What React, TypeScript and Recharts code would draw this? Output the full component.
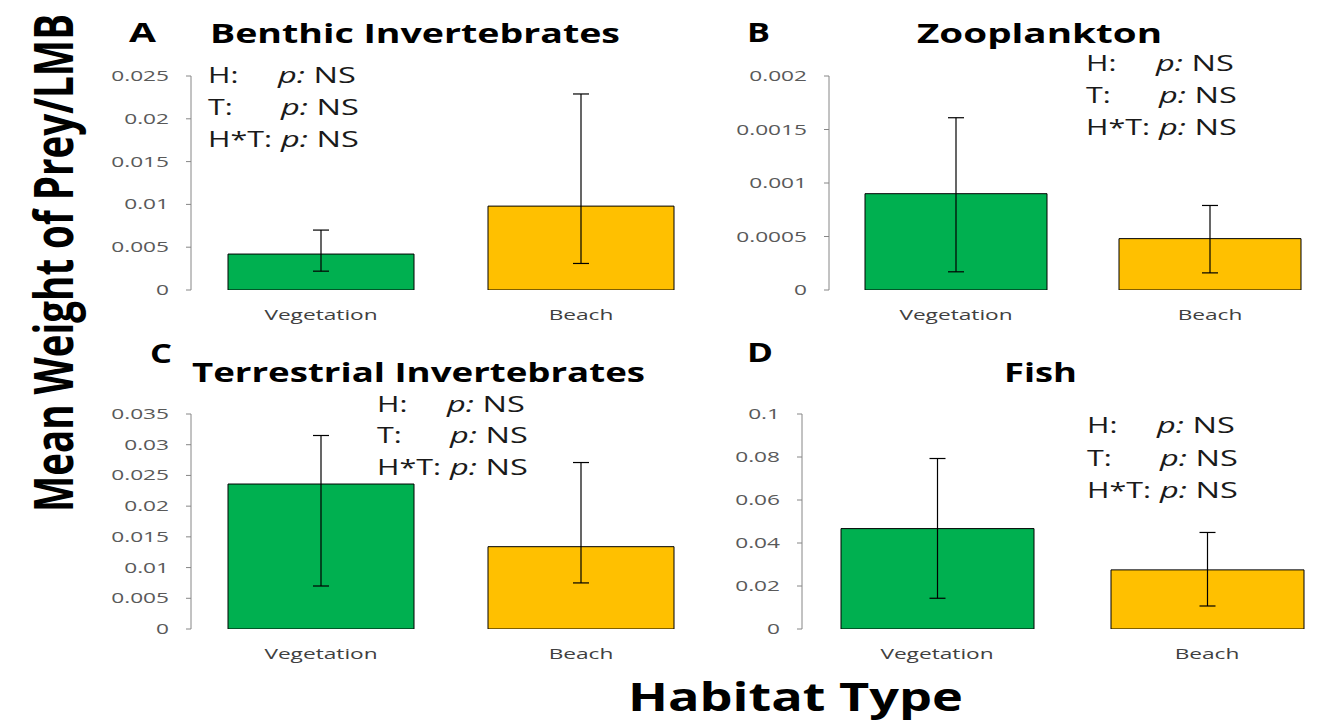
import React from 'react';
import { BarChart, Bar, XAxis, YAxis, ErrorBar, Cell } from 'recharts';

// ---------- data ----------
const categories = ['Vegetation', 'Beach'];
const barColors = ['#00B050', '#FFC000'];

const benthicTitle = 'Benthic Invertebrates';
const benthicMeans = [0.0042, 0.0098];
const benthicLow = [0.0022, 0.0031];
const benthicHigh = [0.007, 0.0229];
const benthicTicks = [0, 0.005, 0.01, 0.015, 0.02, 0.025];

const zooTitle = 'Zooplankton';
const zooMeans = [0.0009, 0.00048];
const zooLow = [0.00017, 0.00016];
const zooHigh = [0.00161, 0.00079];
const zooTicks = [0, 0.0005, 0.001, 0.0015, 0.002];

const terrTitle = 'Terrestrial Invertebrates';
const terrMeans = [0.0236, 0.0134];
const terrLow = [0.007, 0.0075];
const terrHigh = [0.0315, 0.0271];
const terrTicks = [0, 0.005, 0.01, 0.015, 0.02, 0.025, 0.03, 0.035];

const fishTitle = 'Fish';
const fishMeans = [0.0467, 0.0275];
const fishLow = [0.0143, 0.0107];
const fishHigh = [0.0793, 0.0449];
const fishTicks = [0, 0.02, 0.04, 0.06, 0.08, 0.1];

const panelLetters = ['A', 'B', 'C', 'D'];
const statLabels = ['H:', 'T:', 'H*T:'];
const statValue = 'NS';
const yAxisTitle = 'Mean Weight of Prey/LMB';
const xAxisTitle = 'Habitat Type';

// ---------- helpers ----------
const FONT = '"Open Sans", "DejaVu Sans", sans-serif';
const SX = 1.62;

function buildRows(means: number[], low: number[], high: number[]) {
  return categories.map((c, i) => ({
    category: c,
    mean: means[i],
    err: [means[i] - low[i], high[i] - means[i]],
  }));
}

const YTick = (props: any) => {
  const { x, y, payload } = props;
  return (
    <text
      transform={`translate(${x},${y}) scale(${SX},1)`}
      textAnchor="end"
      dy={5}
      fontSize={14}
      fill="#595959"
      fontFamily={FONT}
    >
      {String(payload.value)}
    </text>
  );
};

const XTick = (props: any) => {
  const { x, y, payload } = props;
  return (
    <text
      transform={`translate(${x},${y + 30}) scale(${SX},1)`}
      textAnchor="middle"
      fontSize={14}
      fill="#404040"
      fontFamily={FONT}
    >
      {payload.value}
    </text>
  );
};

type PanelProps = {
  rows: any[];
  ticks: number[];
  left: number;
  top: number;
  width: number;
  height: number;
  margin: { top: number; right: number; bottom: number; left: number };
  barSize: number;
};

function Panel({ rows, ticks, left, top, width, height, margin, barSize }: PanelProps) {
  return (
    <div style={{ position: 'absolute', left, top }}>
      <BarChart width={width} height={height} data={rows} margin={margin}>
        <XAxis
          xAxisId="edges"
          type="number"
          domain={[0, 2]}
          ticks={[0, 1, 2]}
          allowDataOverflow
          tick={false}
          tickSize={6}
          height={0}
          stroke="#868686"
          axisLine={{ stroke: '#868686' }}
          tickLine={{ stroke: '#868686' }}
        />
        <XAxis
          dataKey="category"
          height={30}
          axisLine={false}
          tickLine={false}
          tickSize={0}
          tickMargin={0}
          tick={<XTick />}
          interval={0}
        />
        <YAxis
          width={60}
          domain={[ticks[0], ticks[ticks.length - 1]]}
          ticks={ticks}
          interval={0}
          allowDataOverflow
          tickSize={5}
          tickMargin={17}
          axisLine={{ stroke: '#868686' }}
          tickLine={{ stroke: '#868686' }}
          tick={<YTick />}
        />
        <Bar dataKey="mean" barSize={barSize} stroke="#000" strokeWidth={1} isAnimationActive={false}>
          {rows.map((r, i) => (
            <Cell key={r.category} fill={barColors[i]} />
          ))}
          <ErrorBar dataKey="err" width={8} stroke="#000" strokeWidth={1.2} direction="y" isAnimationActive={false} />
        </Bar>
      </BarChart>
    </div>
  );
}

function Stats({ x0, baselines }: { x0: number; baselines: number[] }) {
  const sLab = 1.45;
  const sVal = 1.55;
  return (
    <g>
      {statLabels.map((lab, i) => (
        <g key={lab}>
          <text
            transform={`translate(${x0},${baselines[i]}) scale(${sLab},1)`}
            fontSize={21}
            fill="#1a1a1a"
            fontFamily={FONT}
          >
            {lab}
          </text>
          <text
            transform={`translate(${x0 + (i === 0 ? 70 : 73)},${baselines[i]}) scale(${sVal},1)`}
            fontSize={21}
            fill="#1a1a1a"
            fontFamily={FONT}
          >
            <tspan fontStyle="italic">p:</tspan>
            {' ' + statValue}
          </text>
        </g>
      ))}
    </g>
  );
}

const Title = ({ x, y, len, children, size = 27 }: any) => (
  <text
    x={x}
    y={y}
    fontSize={size}
    fontWeight={700}
    fontFamily={FONT}
    fill="#000"
    textLength={len}
    lengthAdjust="spacingAndGlyphs"
  >
    {children}
  </text>
);

export default function App() {
  const rowsA = buildRows(benthicMeans, benthicLow, benthicHigh);
  const rowsB = buildRows(zooMeans, zooLow, zooHigh);
  const rowsC = buildRows(terrMeans, terrLow, terrHigh);
  const rowsD = buildRows(fishMeans, fishLow, fishHigh);

  return (
    <div
      style={{
        position: 'absolute',
        left: 0,
        top: 0,
        width: 1325,
        height: 723,
        overflow: 'hidden',
        background: '#fff',
        fontFamily: FONT,
      }}
    >
      <Panel rows={rowsA} ticks={benthicTicks} left={0} top={0} width={730} height={340}
        margin={{ top: 76, right: 19, left: 131, bottom: 20 }} barSize={186} />
      <Panel rows={rowsB} ticks={zooTicks} left={700} top={0} width={660} height={340}
        margin={{ top: 76, right: 23, left: 69, bottom: 20 }} barSize={182} />
      <Panel rows={rowsC} ticks={terrTicks} left={0} top={340} width={730} height={340}
        margin={{ top: 74, right: 19, left: 131, bottom: 21 }} barSize={186} />
      <Panel rows={rowsD} ticks={fishTicks} left={700} top={340} width={660} height={340}
        margin={{ top: 74, right: 18, left: 42, bottom: 21 }} barSize={193} />

      <svg
        width={1325}
        height={723}
        style={{ position: 'absolute', left: 0, top: 0, pointerEvents: 'none' }}
      >
        <Title x={129} y={42} len={27}>{panelLetters[0]}</Title>
        <Title x={210} y={43} len={410}>{benthicTitle}</Title>
        <Title x={747} y={42} len={23}>{panelLetters[1]}</Title>
        <Title x={917} y={43} len={245}>{zooTitle}</Title>
        <Title x={150} y={363} len={22}>{panelLetters[2]}</Title>
        <Title x={192} y={382} len={453}>{terrTitle}</Title>
        <Title x={747} y={362} len={26}>{panelLetters[3]}</Title>
        <Title x={1004} y={382} len={73}>{fishTitle}</Title>

        <Stats x0={208} baselines={[83, 115, 147]} />
        <Stats x0={1086} baselines={[71, 103, 135]} />
        <Stats x0={377} baselines={[412, 443, 475]} />
        <Stats x0={1087} baselines={[433, 466, 498]} />

        <text
          transform="translate(73,263) scale(1.4,1) rotate(-90)"
          textAnchor="middle"
          fontSize={38}
          fontWeight={700}
          fontFamily={FONT}
          fill="#000"
          textLength={498}
          lengthAdjust="spacingAndGlyphs"
        >
          {yAxisTitle}
        </text>
        <text
          x={628}
          y={711}
          fontSize={40}
          fontWeight={700}
          fontFamily={FONT}
          fill="#000"
          textLength={335}
          lengthAdjust="spacingAndGlyphs"
        >
          {xAxisTitle}
        </text>
      </svg>
    </div>
  );
}
